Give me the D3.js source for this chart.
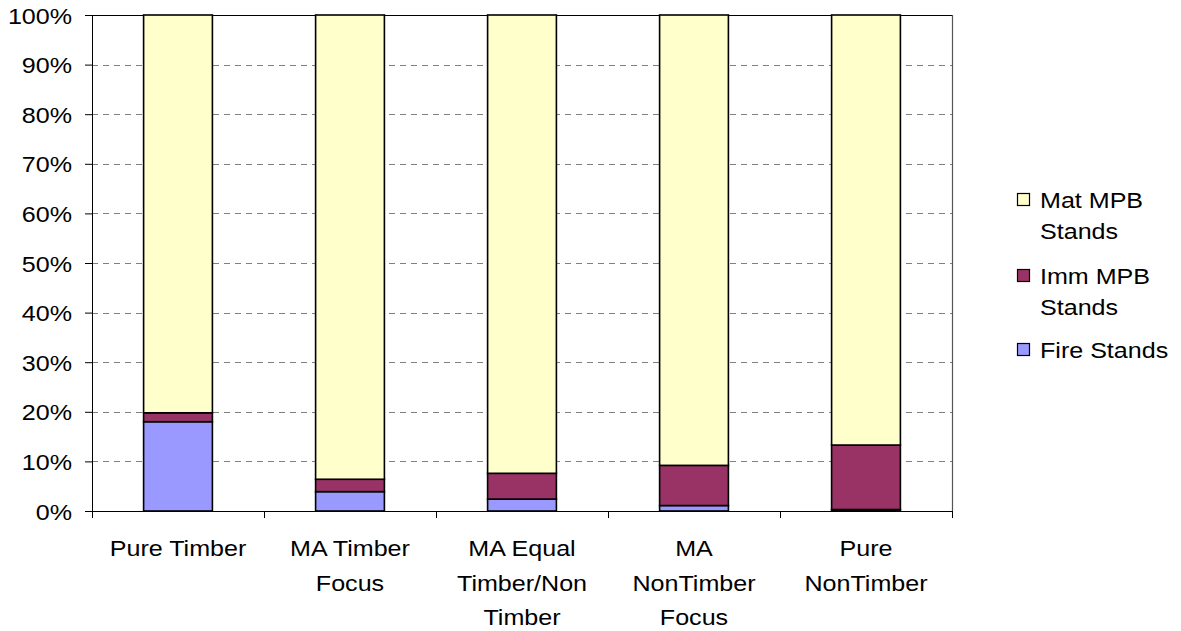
<!DOCTYPE html>
<html>
<head>
<meta charset="utf-8">
<script src="https://cdn.jsdelivr.net/npm/d3@7"></script>
<style>
  html, body { margin: 0; padding: 0; background: #fff; }
  svg text { font-family: "Liberation Sans", Arial, sans-serif; font-size: 22px; fill: #000; }
</style>
</head>
<body>
<svg id="chart" width="1181" height="631"></svg>
<script>
// Stand-type shares (%) for each management scenario
const categories = ["Pure Timber", "MA Timber Focus", "MA Equal Timber/Non Timber", "MA NonTimber Focus", "Pure NonTimber"];
const categoryLines = [["Pure Timber"], ["MA Timber", "Focus"], ["MA Equal", "Timber/Non", "Timber"], ["MA", "NonTimber", "Focus"], ["Pure", "NonTimber"]];
const fireStands = [18.0, 3.9, 2.4, 1.1, 0.3];
const immStands = [1.8, 2.5, 5.2, 8.1, 13.0];
const matStands = [80.2, 93.6, 92.4, 90.8, 86.7];
const seriesNames = ["Fire Stands", "Imm MPB Stands", "Mat MPB Stands"];
const seriesColors = ["#9999FF", "#993366", "#FFFFCC"];
const legendLines = { "Mat MPB Stands": ["Mat MPB", "Stands"], "Imm MPB Stands": ["Imm MPB", "Stands"], "Fire Stands": ["Fire Stands"] };
const yTicks = [0, 0.1, 0.2, 0.3, 0.4, 0.5, 0.6, 0.7, 0.8, 0.9, 1.0];

const rows = categories.map((c, i) => {
  const total = fireStands[i] + immStands[i] + matStands[i];
  return {
    category: c,
    "Fire Stands": fireStands[i] / total,
    "Imm MPB Stands": immStands[i] / total,
    "Mat MPB Stands": matStands[i] / total
  };
});

const svg = d3.select("#chart");
const plotLeft = 92, plotRight = 952, plotTop = 15, plotBottom = 511;
const stretch = 1.14; // wide glyph rendering

// text placed at an anchor point, widened horizontally around it
function label(parent, ax, ay, str, anchor) {
  return parent.append("text")
    .attr("transform", `translate(${ax},${ay}) scale(${stretch},1)`)
    .attr("text-anchor", anchor || "start")
    .text(str);
}

const x = d3.scaleBand().domain(categories).range([plotLeft, plotRight]).paddingInner(0.6).paddingOuter(0.3);
const y = d3.scaleLinear().domain([0, 1]).range([plotBottom, plotTop]);
const color = d3.scaleOrdinal().domain(seriesNames).range(seriesColors);

// dashed gridlines
svg.append("g")
  .selectAll("line")
  .data(yTicks.filter(t => t > 0 && t < 1))
  .join("line")
  .attr("x1", plotLeft).attr("x2", plotRight)
  .attr("y1", d => Math.round(y(d)) + 0.5).attr("y2", d => Math.round(y(d)) + 0.5)
  .attr("stroke", "#808080")
  .attr("stroke-width", 1)
  .attr("stroke-dasharray", "6,5");

// plot frame top and right
svg.append("line").attr("x1", plotLeft).attr("x2", plotRight).attr("y1", plotTop + 0.5).attr("y2", plotTop + 0.5)
  .attr("stroke", "#000").attr("stroke-width", 1.2);
svg.append("line").attr("x1", plotRight + 0.5).attr("x2", plotRight + 0.5).attr("y1", plotTop).attr("y2", plotBottom)
  .attr("stroke", "#555").attr("stroke-width", 1.2);

// stacked bars
const stack = d3.stack().keys(seriesNames);
const layers = stack(rows);
svg.append("g")
  .selectAll("g")
  .data(layers)
  .join("g")
  .attr("fill", d => color(d.key))
  .selectAll("rect")
  .data(d => d)
  .join("rect")
  .attr("x", d => x(d.data.category))
  .attr("width", x.bandwidth())
  .attr("y", d => y(d[1]))
  .attr("height", d => y(d[0]) - y(d[1]))
  .attr("stroke", "#000")
  .attr("stroke-width", 1.6);

// y axis
const yAxis = d3.axisLeft(y).tickValues(yTicks).tickFormat(d3.format(".0%")).tickSizeOuter(0).tickSize(7).tickPadding(12);
const gy = svg.append("g").attr("transform", `translate(${plotLeft},0)`).call(yAxis);
gy.attr("font-size", null).attr("font-family", null);
gy.select(".domain").attr("stroke", "#000");
gy.selectAll(".tick line").attr("stroke", "#000");
gy.selectAll(".tick text").each(function() {
  const t = d3.select(this);
  t.attr("x", null).attr("dy", null).attr("font-size", null).attr("font-family", null)
    .attr("text-anchor", "end")
    .attr("transform", `translate(-20,8) scale(${stretch},1)`);
});

// x axis: ticks at category boundaries
const step = x.step();
const boundaries = d3.range(categories.length + 1).map(i => plotLeft + i * step);
svg.append("line").attr("x1", plotLeft).attr("x2", plotRight).attr("y1", plotBottom + 0.5).attr("y2", plotBottom + 0.5)
  .attr("stroke", "#000");
svg.append("g").selectAll("line").data(boundaries).join("line")
  .attr("x1", d => Math.round(d) + 0.5).attr("x2", d => Math.round(d) + 0.5)
  .attr("y1", plotBottom).attr("y2", plotBottom + 7)
  .attr("stroke", "#000");

// category labels
const xl = svg.append("g");
categories.forEach((c, i) => {
  const cx = x(c) + x.bandwidth() / 2;
  categoryLines[i].forEach((line, j) => {
    label(xl, cx, 556 + j * 34.5, line, "middle");
  });
});

// legend
const legendOrder = ["Mat MPB Stands", "Imm MPB Stands", "Fire Stands"];
const legendY = [200, 276, 350];
const lg = svg.append("g");
legendOrder.forEach((k, i) => {
  const cy = legendY[i];
  lg.append("rect").attr("x", 1017.5).attr("y", cy - 6.5).attr("width", 12).attr("height", 12)
    .attr("fill", color(k)).attr("stroke", "#000").attr("stroke-width", 1.2);
  legendLines[k].forEach((line, j) => {
    label(lg, 1040, cy + 8 + j * 31, line, "start");
  });
});
</script>
</body>
</html>
